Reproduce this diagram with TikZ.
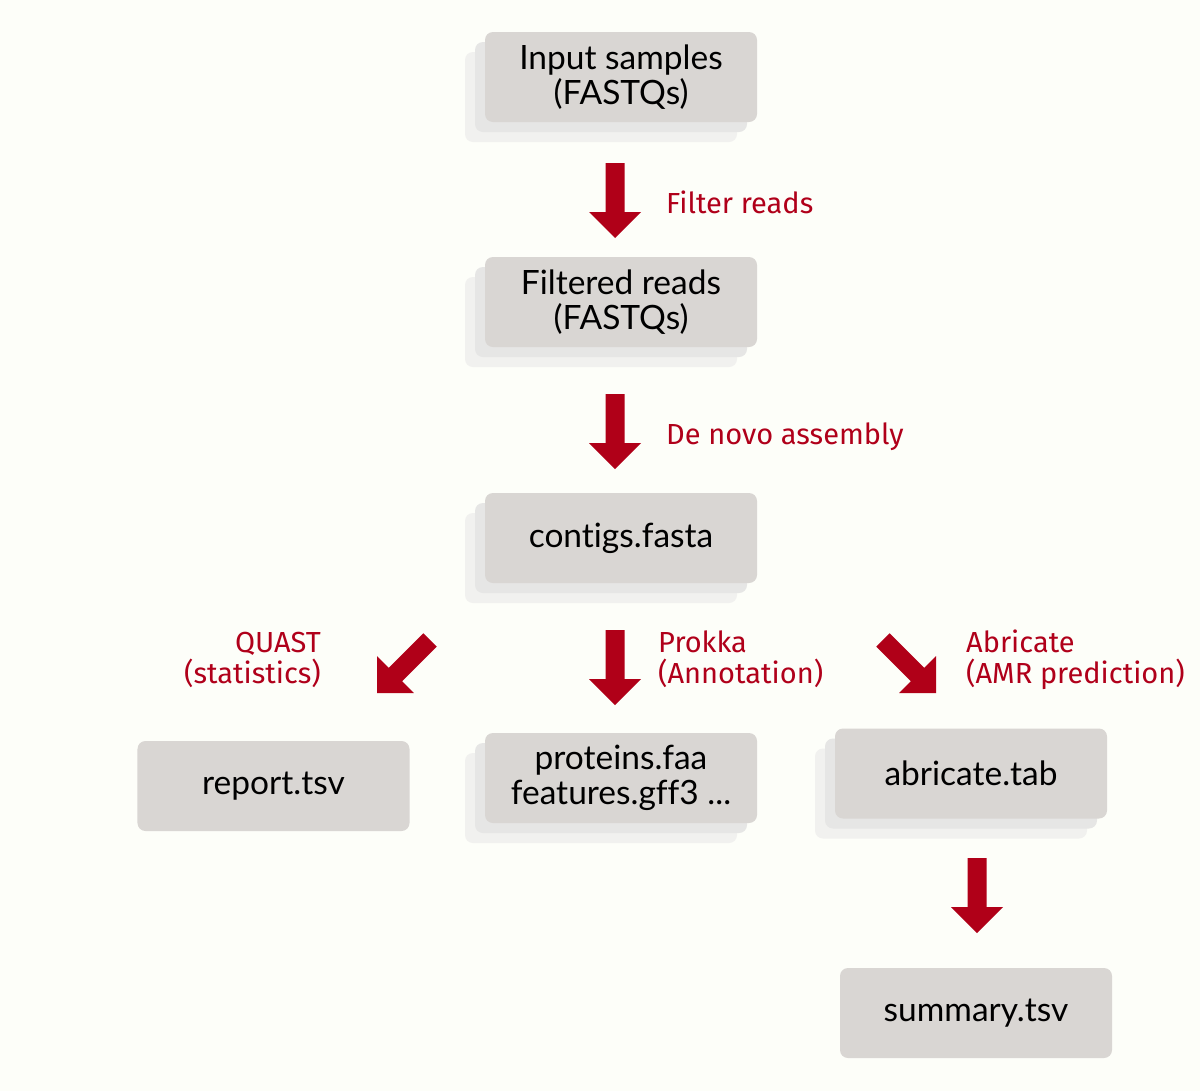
\documentclass[tikz,border=0pt]{standalone}
\usepackage{fontspec}
\usetikzlibrary{shadows}
\newfontfamily\boxfam[Ligatures=NoCommon]{Lato}
\newfontfamily\labfam{Fira Sans}
\definecolor{bg}{RGB}{253,254,249}
\definecolor{boxgray}{RGB}{217,214,211}
\definecolor{shone}{RGB}{230,230,229}
\definecolor{shtwo}{RGB}{241,241,239}
\definecolor{labred}{RGB}{176,0,26}
\definecolor{arrred}{RGB}{176,0,24}
\tikzset{
  box/.style={fill=boxgray, rounded corners=8bp, minimum width=272bp, minimum height=90bp,
    inner sep=0pt, align=center, text=black, font=\boxfam\fontsize{33.5bp}{35bp}\selectfont},
  stacked/.style={general shadow={fill=shtwo, shadow xshift=-20bp, shadow yshift=-20bp},
    general shadow={fill=shone, shadow xshift=-10bp, shadow yshift=-10bp}},
  lab/.style={text=labred, inner sep=0pt, font=\labfam\fontsize{29bp}{31bp}\selectfont},
  barrow/.pic={\fill[arrred] (0,0) -- (-26,-26) -- (-9.5,-26) -- (-9.5,-75) -- (9.5,-75) -- (9.5,-26) -- (26,-26) -- cycle;}
}
\begin{document}
\begin{tikzpicture}[x=1bp, y=-1bp]
\useasboundingbox (0,0) rectangle (1200,1091);
\fill[bg] (0,0) rectangle (1200,1091);

\node[box, stacked] (in) at (621,77) {Input samples\\(FASTQs)};
\node[box, stacked] (filt) at (621,302) {Filtered reads\\(FASTQs)};
\node[box, stacked] (contigs) at (621,538) {contigs.fasta};
\node[box] (report) at (273.5,786) {report.tsv};
\node[box, stacked] (prot) at (621,778) {proteins.faa\\features.gff3 ...};
\node[box, stacked] (abr) at (971,773.5) {abricate.tab};
\node[box] (sum) at (976,1013) {summary.tsv};

\pic at (615,238) {barrow};
\pic at (615,469) {barrow};
\pic at (615,705) {barrow};
\pic[rotate=-45] at (377,693) {barrow};
\pic[rotate=45] at (936,693) {barrow};
\pic at (977,933) {barrow};

\node[lab, anchor=base west] (lfilter) at (666,213) {Filter reads};
\node[lab, anchor=base west] (lnovo) at (666,444) {De novo assembly};
\node[lab, anchor=base east] (lquasta) at (321,652) {QUAST};
\node[lab, anchor=base east] (lquastb) at (321,683) {(statistics)};
\node[lab, anchor=base west] (lprokka) at (658,652) {Prokka};
\node[lab, anchor=base west] (lprokkb) at (658,683) {(Annotation)};
\node[lab, anchor=base west] (labra) at (966,652) {Abricate};
\node[lab, anchor=base west] (labrb) at (966,683) {(AMR prediction)};
\end{tikzpicture}
\end{document}
